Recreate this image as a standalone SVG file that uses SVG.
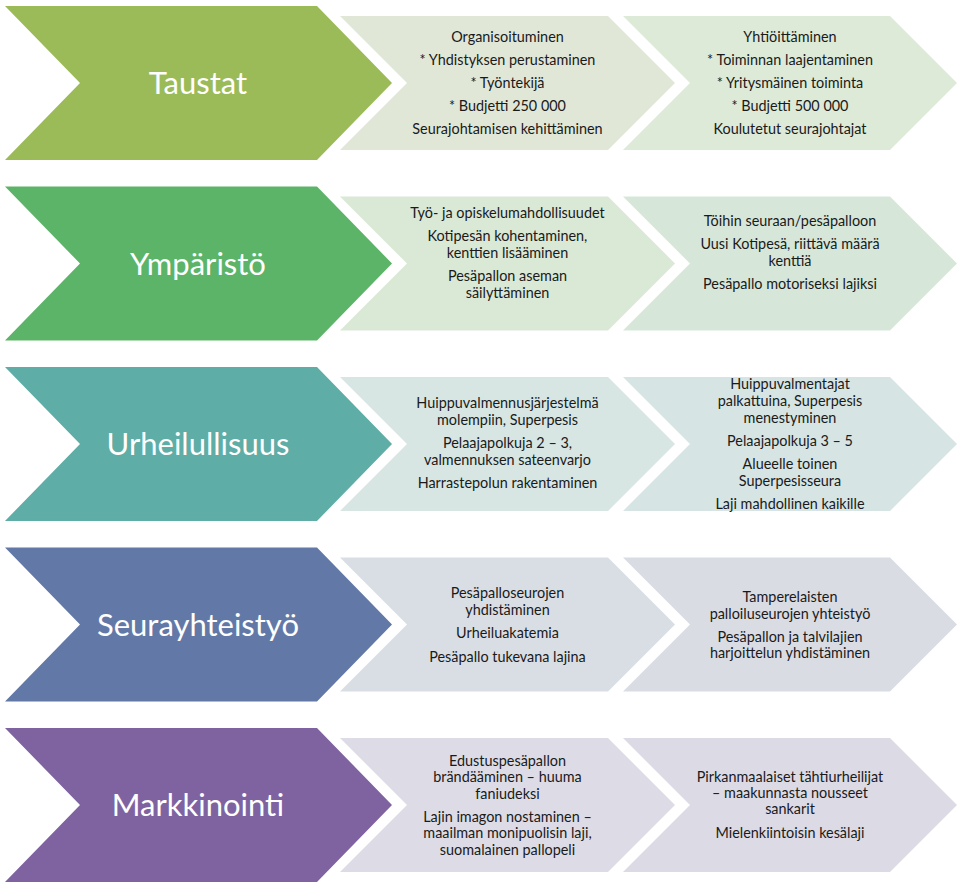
<svg xmlns="http://www.w3.org/2000/svg" width="960" height="889" viewBox="0 0 960 889">
<style>
.big{font-family:Lato,"Open Sans","Liberation Sans",sans-serif;font-size:31px;fill:#ffffff;text-anchor:middle}
.t{font-family:Lato,"Open Sans","Liberation Sans",sans-serif;font-size:14.4px;fill:#1a1a1a;text-anchor:middle}
</style>
<defs>
<path id="bigc" d="M5,6 H317 L392,83 L317,160 H5 L80,83 Z"/>
<path id="s1" d="M340,16 H608 L675,83 L608,150 H340 L407,83 Z"/>
<path id="s2" d="M623,16 H890 L957,83 L890,150 H623 L690,83 Z"/>
</defs>
<rect width="960" height="889" fill="#ffffff"/>

<g id="row1">
<g id="taustat"><use href="#bigc" fill="#9BBB59"/><text class="big" x="198" y="94">Taustat</text></g>
<g id="taustat-1"><use href="#s1" fill="#E1E7D7"/>
<text class="t" x="507.5" y="42">Organisoituminen</text>
<text class="t" x="507.5" y="65">* Yhdistyksen perustaminen</text>
<text class="t" x="507.5" y="88">* Työntekijä</text>
<text class="t" x="507.5" y="111">* Budjetti 250 000</text>
<text class="t" x="507.5" y="134">Seurajohtamisen kehittäminen</text>
</g>
<g id="taustat-2"><use href="#s2" fill="#DDEAD8"/>
<text class="t" x="790" y="42">Yhtiöittäminen</text>
<text class="t" x="790" y="65">* Toiminnan laajentaminen</text>
<text class="t" x="790" y="88">* Yritysmäinen toiminta</text>
<text class="t" x="790" y="111">* Budjetti 500 000</text>
<text class="t" x="790" y="134">Koulutetut seurajohtajat</text>
</g>
</g>

<g id="row2" transform="translate(0,180.5)">
<g id="ymparisto"><use href="#bigc" fill="#5CB468"/><text class="big" x="198" y="94">Ympäristö</text></g>
<g id="ymparisto-1"><use href="#s1" fill="#DAE8D6"/>
<text class="t" x="507.5" y="37">Työ- ja opiskelumahdollisuudet</text>
<text class="t" x="507.5" y="60">Kotipesän  kohentaminen,</text>
<text class="t" x="507.5" y="77">kenttien lisääminen</text>
<text class="t" x="507.5" y="100">Pesäpallon aseman</text>
<text class="t" x="507.5" y="117">säilyttäminen</text>
</g>
<g id="ymparisto-2"><use href="#s2" fill="#D6E7D9"/>
<text class="t" x="790" y="45">Töihin seuraan/pesäpalloon</text>
<text class="t" x="790" y="68">Uusi Kotipesä, riittävä määrä</text>
<text class="t" x="790" y="85">kenttiä</text>
<text class="t" x="790" y="108">Pesäpallo motoriseksi lajiksi</text>
</g>
</g>

<g id="row3" transform="translate(0,361)">
<g id="urheilullisuus"><use href="#bigc" fill="#5EADA6"/><text class="big" x="198" y="94">Urheilullisuus</text></g>
<g id="urheilullisuus-1"><use href="#s1" fill="#D7E6E3"/>
<text class="t" x="507.5" y="47">Huippuvalmennusjärjestelmä</text>
<text class="t" x="507.5" y="64">molempiin, Superpesis</text>
<text class="t" x="507.5" y="87">Pelaajapolkuja 2 – 3,</text>
<text class="t" x="507.5" y="104">valmennuksen sateenvarjo</text>
<text class="t" x="507.5" y="127">Harrastepolun rakentaminen</text>
</g>
<g id="urheilullisuus-2"><use href="#s2" fill="#D6E5E3"/>
<text class="t" x="790" y="28">Huippuvalmentajat</text>
<text class="t" x="790" y="45">palkattuina, Superpesis</text>
<text class="t" x="790" y="62">menestyminen</text>
<text class="t" x="790" y="85">Pelaajapolkuja 3 – 5</text>
<text class="t" x="790" y="108">Alueelle toinen</text>
<text class="t" x="790" y="125">Superpesisseura</text>
<text class="t" x="790" y="148">Laji mahdollinen kaikille</text>
</g>
</g>

<g id="row4" transform="translate(0,541.5)">
<g id="seurayhteistyo"><use href="#bigc" fill="#6279A8"/><text class="big" x="198" y="94">Seurayhteistyö</text></g>
<g id="seurayhteistyo-1"><use href="#s1" fill="#D9DEE5"/>
<text class="t" x="507.5" y="56">Pesäpalloseurojen</text>
<text class="t" x="507.5" y="73">yhdistäminen</text>
<text class="t" x="507.5" y="96">Urheiluakatemia</text>
<text class="t" x="507.5" y="120">Pesäpallo tukevana lajina</text>
</g>
<g id="seurayhteistyo-2"><use href="#s2" fill="#DADCE4"/>
<text class="t" x="790" y="60">Tamperelaisten</text>
<text class="t" x="790" y="77">palloiluseurojen yhteistyö</text>
<text class="t" x="790" y="100">Pesäpallon ja talvilajien</text>
<text class="t" x="790" y="116">harjoittelun yhdistäminen</text>
</g>
</g>

<g id="row5" transform="translate(0,722)">
<g id="markkinointi"><use href="#bigc" fill="#7F63A1"/><text class="big" x="198" y="94">Markkinointi</text></g>
<g id="markkinointi-1"><use href="#s1" fill="#DDDCE6"/>
<text class="t" x="507.5" y="44">Edustuspesäpallon</text>
<text class="t" x="507.5" y="60">brändääminen – huuma</text>
<text class="t" x="507.5" y="77">faniudeksi</text>
<text class="t" x="507.5" y="100">Lajin imagon nostaminen –</text>
<text class="t" x="507.5" y="116">maailman monipuolisin laji,</text>
<text class="t" x="507.5" y="133">suomalainen pallopeli</text>
</g>
<g id="markkinointi-2"><use href="#s2" fill="#DCDAE5"/>
<text class="t" x="790" y="60">Pirkanmaalaiset tähtiurheilijat</text>
<text class="t" x="790" y="76">– maakunnasta nousseet</text>
<text class="t" x="790" y="92">sankarit</text>
<text class="t" x="790" y="116">Mielenkiintoisin kesälaji</text>
</g>
</g>
<g id="connectors"/>
</svg>
